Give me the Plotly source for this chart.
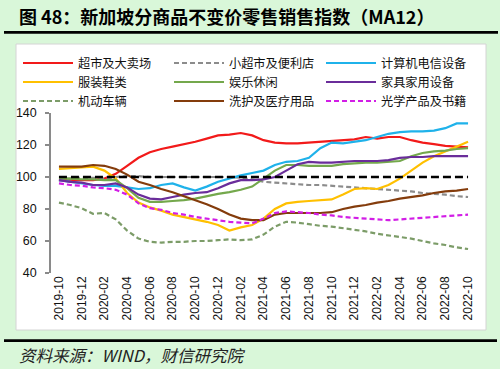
import plotly.graph_objects as go

months = ["2019-10","2019-11","2019-12","2020-01","2020-02","2020-03","2020-04","2020-05","2020-06",
          "2020-07","2020-08","2020-09","2020-10","2020-11","2020-12","2021-01","2021-02","2021-03",
          "2021-04","2021-05","2021-06","2021-07","2021-08","2021-09","2021-10","2021-11","2021-12",
          "2022-01","2022-02","2022-03","2022-04","2022-05","2022-06","2022-07","2022-08","2022-09","2022-10"]
tick_labels = months[::2]

supermarket = [98,98,98,98,99,102,107,112,115.5,117.5,119,120.5,122,124,126,126.5,127.5,126,123,121.5,
               121,121,121.5,122,122.5,123,123.5,125,124,125,125,123,121.5,120.5,119.5,119,118.5]
minimart = [99,99,99.5,99.5,99,100,100.5,100.5,100,100,100,100,100,100,100,100,99.5,98.5,97,96.5,
            96,95.5,95,95,94.5,94,93.5,93,92.5,92,91.5,91,90,89.5,89,88,87.5]
computer = [98,97,96,95,94.5,94.5,93.5,92.5,93,95,96,93.5,91.5,94,97,99,101,102.5,104,107.5,
            109.5,110,112,118,121.5,121,122,123,125,127,128,128.5,128.5,129,130.5,133.5,133.5]
apparel = [105,105.5,106,106.5,104,99,90,84,81,79,76.5,75,73.5,72,70,66.5,68.5,70,74,80,
           83.5,84.5,85,85.5,86,89,92.5,93,92.5,95,99,104,109,113,116,118.5,122]
leisure = [99,99,98.5,98.5,98,98,93,87,84.5,84.5,85,85.5,86.5,88,89.5,90.5,92,94,99,104,
           107.5,107.5,107,107,107,108,108.5,109,109,109.5,110,113,115,116,116.5,117.5,118]
furniture = [98,97,96.5,95,95,96,93.5,89,86.5,86,87.5,89,90,90.5,93,96,98,98,98.5,100,
             104,108,109.5,109,109,109.5,110,110,110,110.5,112,112.5,112.5,113,113,113,113]
motor = [84,82.5,80.5,77,77.5,73.5,66.5,61.5,59.5,59,59.5,59.5,60,60,60.5,61,60.5,61,64,69,
         72,71.5,70.5,69.5,69,68,67,66,64.5,63.5,62.5,61.5,60,58.5,57.5,56,55]
toiletries = [106.5,106.5,106.5,107.5,107,105,101.5,97,95,92.5,90.5,88,85.5,83,80,76.5,74,73,73,76.5,
              77.5,77.5,77.5,77.5,78,80,81.5,82.5,84,85,86.5,87.5,88.5,90,91,91.5,92.5]
optical = [96,95,94.5,93.5,93,92,89,83.5,80.5,79.5,77.5,76.5,75,74,73,72,71.5,71,74,77.5,
           78.5,78,77.5,76.5,76,75,74.5,74,73.5,73,73.5,74,74.5,75,75.5,76,76.5]
baseline = [100] * len(months)

# name, values, colour, dash, legend column
series = [
    ("超市及大卖场", supermarket, "#f21a1a", "solid", "legend"),
    ("小超市及便利店", minimart, "#8c8c8c", "5px,3px", "legend2"),
    ("计算机电信设备", computer, "#1fb2ea", "solid", "legend3"),
    ("服装鞋类", apparel, "#ffc000", "solid", "legend"),
    ("娱乐休闲", leisure, "#74a84c", "solid", "legend2"),
    ("家具家用设备", furniture, "#6a2d9a", "solid", "legend3"),
    ("机动车辆", motor, "#7c9c68", "5px,3px", "legend"),
    ("洗护及医疗用品", toiletries, "#843c0c", "solid", "legend2"),
    ("光学产品及书籍", optical, "#d21ee6", "5px,3px", "legend3"),
]

L, R, T, B = 51, 476, 113, 273
W, H = 500, 369

def xp(px):
    return (px - L) / (R - L)

def yp(py):
    return (B - py) / (B - T)

fig = go.Figure()
for name, vals, color, dash, lg in series:
    fig.add_trace(go.Scatter(x=months, y=vals, name=name, mode="lines", legend=lg,
                             line=dict(color=color, width=2.2, dash=dash)))
fig.add_trace(go.Scatter(x=months, y=baseline, mode="lines", showlegend=False,
                         line=dict(color="#000000", width=2.5, dash="8px,4px")))

def legend_at(px):
    return dict(orientation="v", xref="container", yref="container",
                x=px / W, y=1 - 48.5 / H, xanchor="left", yanchor="top",
                bgcolor="rgba(0,0,0,0)", itemwidth=50, tracegroupgap=0,
                font=dict(family="Noto Sans CJK SC", size=12.2, color="#111111"),
                traceorder="normal")

fig.update_layout(
    width=W, height=H,
    margin=dict(l=L, r=W - R, t=T, b=H - B, autoexpand=False),
    paper_bgcolor="#d9f7d9",
    plot_bgcolor="rgba(0,0,0,0)",
    font=dict(family="Liberation Sans, Noto Sans CJK SC", size=12, color="#000000"),
    showlegend=True,
    legend=legend_at(18),
    legend2=legend_at(169),
    legend3=legend_at(321),
    xaxis=dict(type="category", range=[-0.7, 36.7], tickmode="array",
               tickvals=tick_labels, ticktext=tick_labels, tickangle=-90,
               showgrid=False, zeroline=False, showline=False, ticks="",
               tickfont=dict(family="Liberation Sans", size=12, color="#111111")),
    yaxis=dict(range=[40, 140], tickvals=[40, 60, 80, 100, 120, 140], showgrid=False,
               zeroline=False, showline=True, linecolor="#8a8a8a", linewidth=1.5,
               ticks="outside", ticklen=4, tickcolor="#8a8a8a", tickwidth=1.5,
               ticklabelstandoff=6,
               tickfont=dict(family="Liberation Sans", size=12.5, color="#111111")),
    shapes=[
        dict(type="rect", xref="paper", yref="paper", x0=xp(16), x1=xp(486), y0=yp(330), y1=yp(44),
             fillcolor="#ffffff", line=dict(color="#d4d4d4", width=1), layer="below"),
        dict(type="line", xref="paper", yref="paper", x0=xp(4), x1=xp(498), y0=yp(32.3), y1=yp(32.3),
             line=dict(color="#000000", width=2.7)),
        dict(type="line", xref="paper", yref="paper", x0=xp(4), x1=xp(497), y0=yp(340.7), y1=yp(340.7),
             line=dict(color="#000000", width=2.7)),
    ],
    annotations=[
        dict(text="<b>图 48：新加坡分商品不变价零售销售指数（MA12）</b>", xref="paper", yref="paper",
             x=xp(17), y=yp(16), xanchor="left", yanchor="middle", showarrow=False,
             font=dict(family="Noto Sans CJK SC", size=18, color="#000000")),
        dict(text="<i>资料来源：WIND，财信研究院</i>", xref="paper", yref="paper",
             x=xp(17), y=yp(355), xanchor="left", yanchor="middle", showarrow=False,
             font=dict(family="Noto Sans CJK SC", size=16.5, color="#222222")),
    ],
)

fig.write_html("out.html", config={"displayModeBar": False},
               post_script="document.body.style.margin='0';document.body.style.padding='0';")
